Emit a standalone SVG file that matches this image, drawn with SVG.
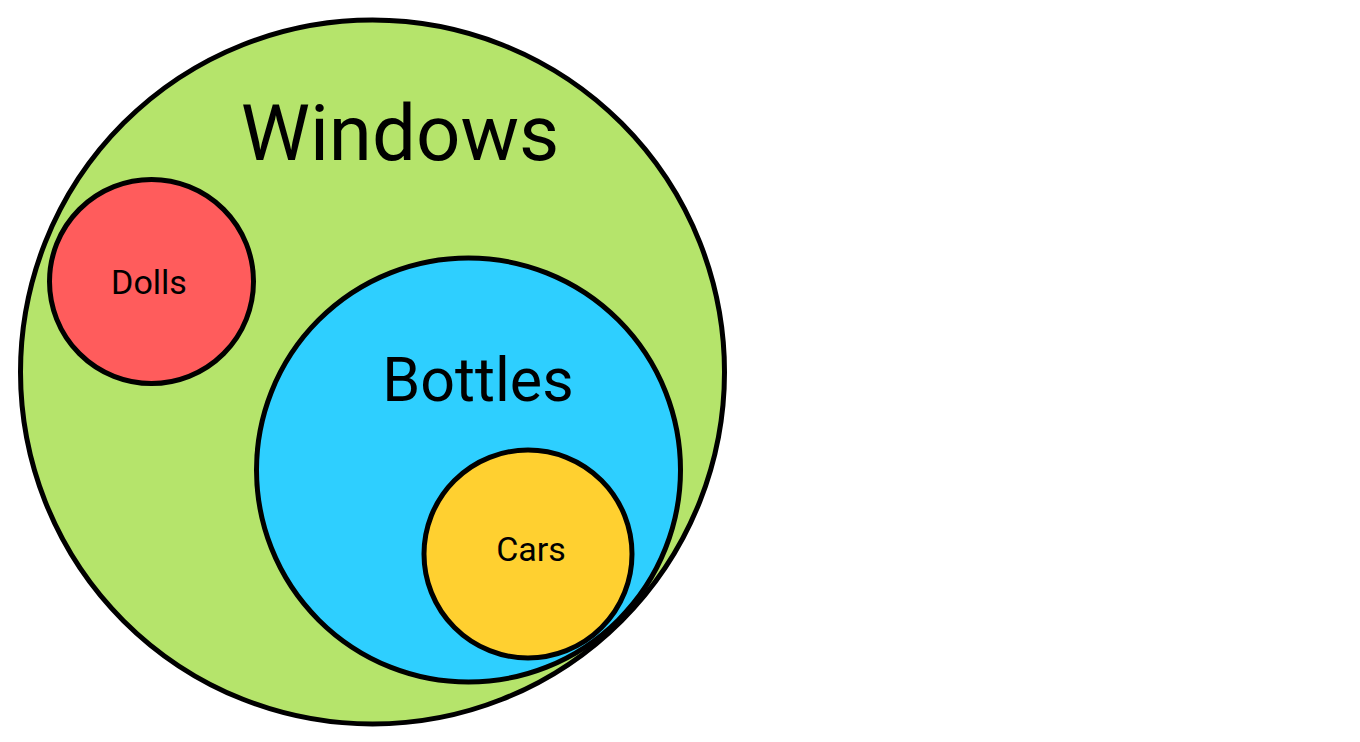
<svg xmlns="http://www.w3.org/2000/svg" width="1360" height="742" viewBox="0 0 1360 742">
<style>
.c{stroke:#000;stroke-width:5}
text{font-family:Roboto,"Liberation Sans",sans-serif;fill:#000;text-anchor:middle}
</style>
<rect width="1360" height="742" fill="#fff"/>
<g id="windows"><circle class="c" cx="372.5" cy="372" r="352" fill="#b5e46b"/><text x="400" y="160" font-size="78">Windows</text></g>
<g id="dolls"><circle class="c" cx="151.5" cy="281.5" r="102" fill="#ff5c5c"/><text x="149" y="294" font-size="34">Dolls</text></g>
<g id="bottles"><circle class="c" cx="468.5" cy="470" r="212" fill="#2ecfff"/><text x="478" y="401" font-size="61">Bottles</text></g>
<g id="cars"><circle class="c" cx="528" cy="554" r="104" fill="#ffd030"/><text x="531" y="561" font-size="34">Cars</text></g>
<g id="connectors"/>
</svg>
